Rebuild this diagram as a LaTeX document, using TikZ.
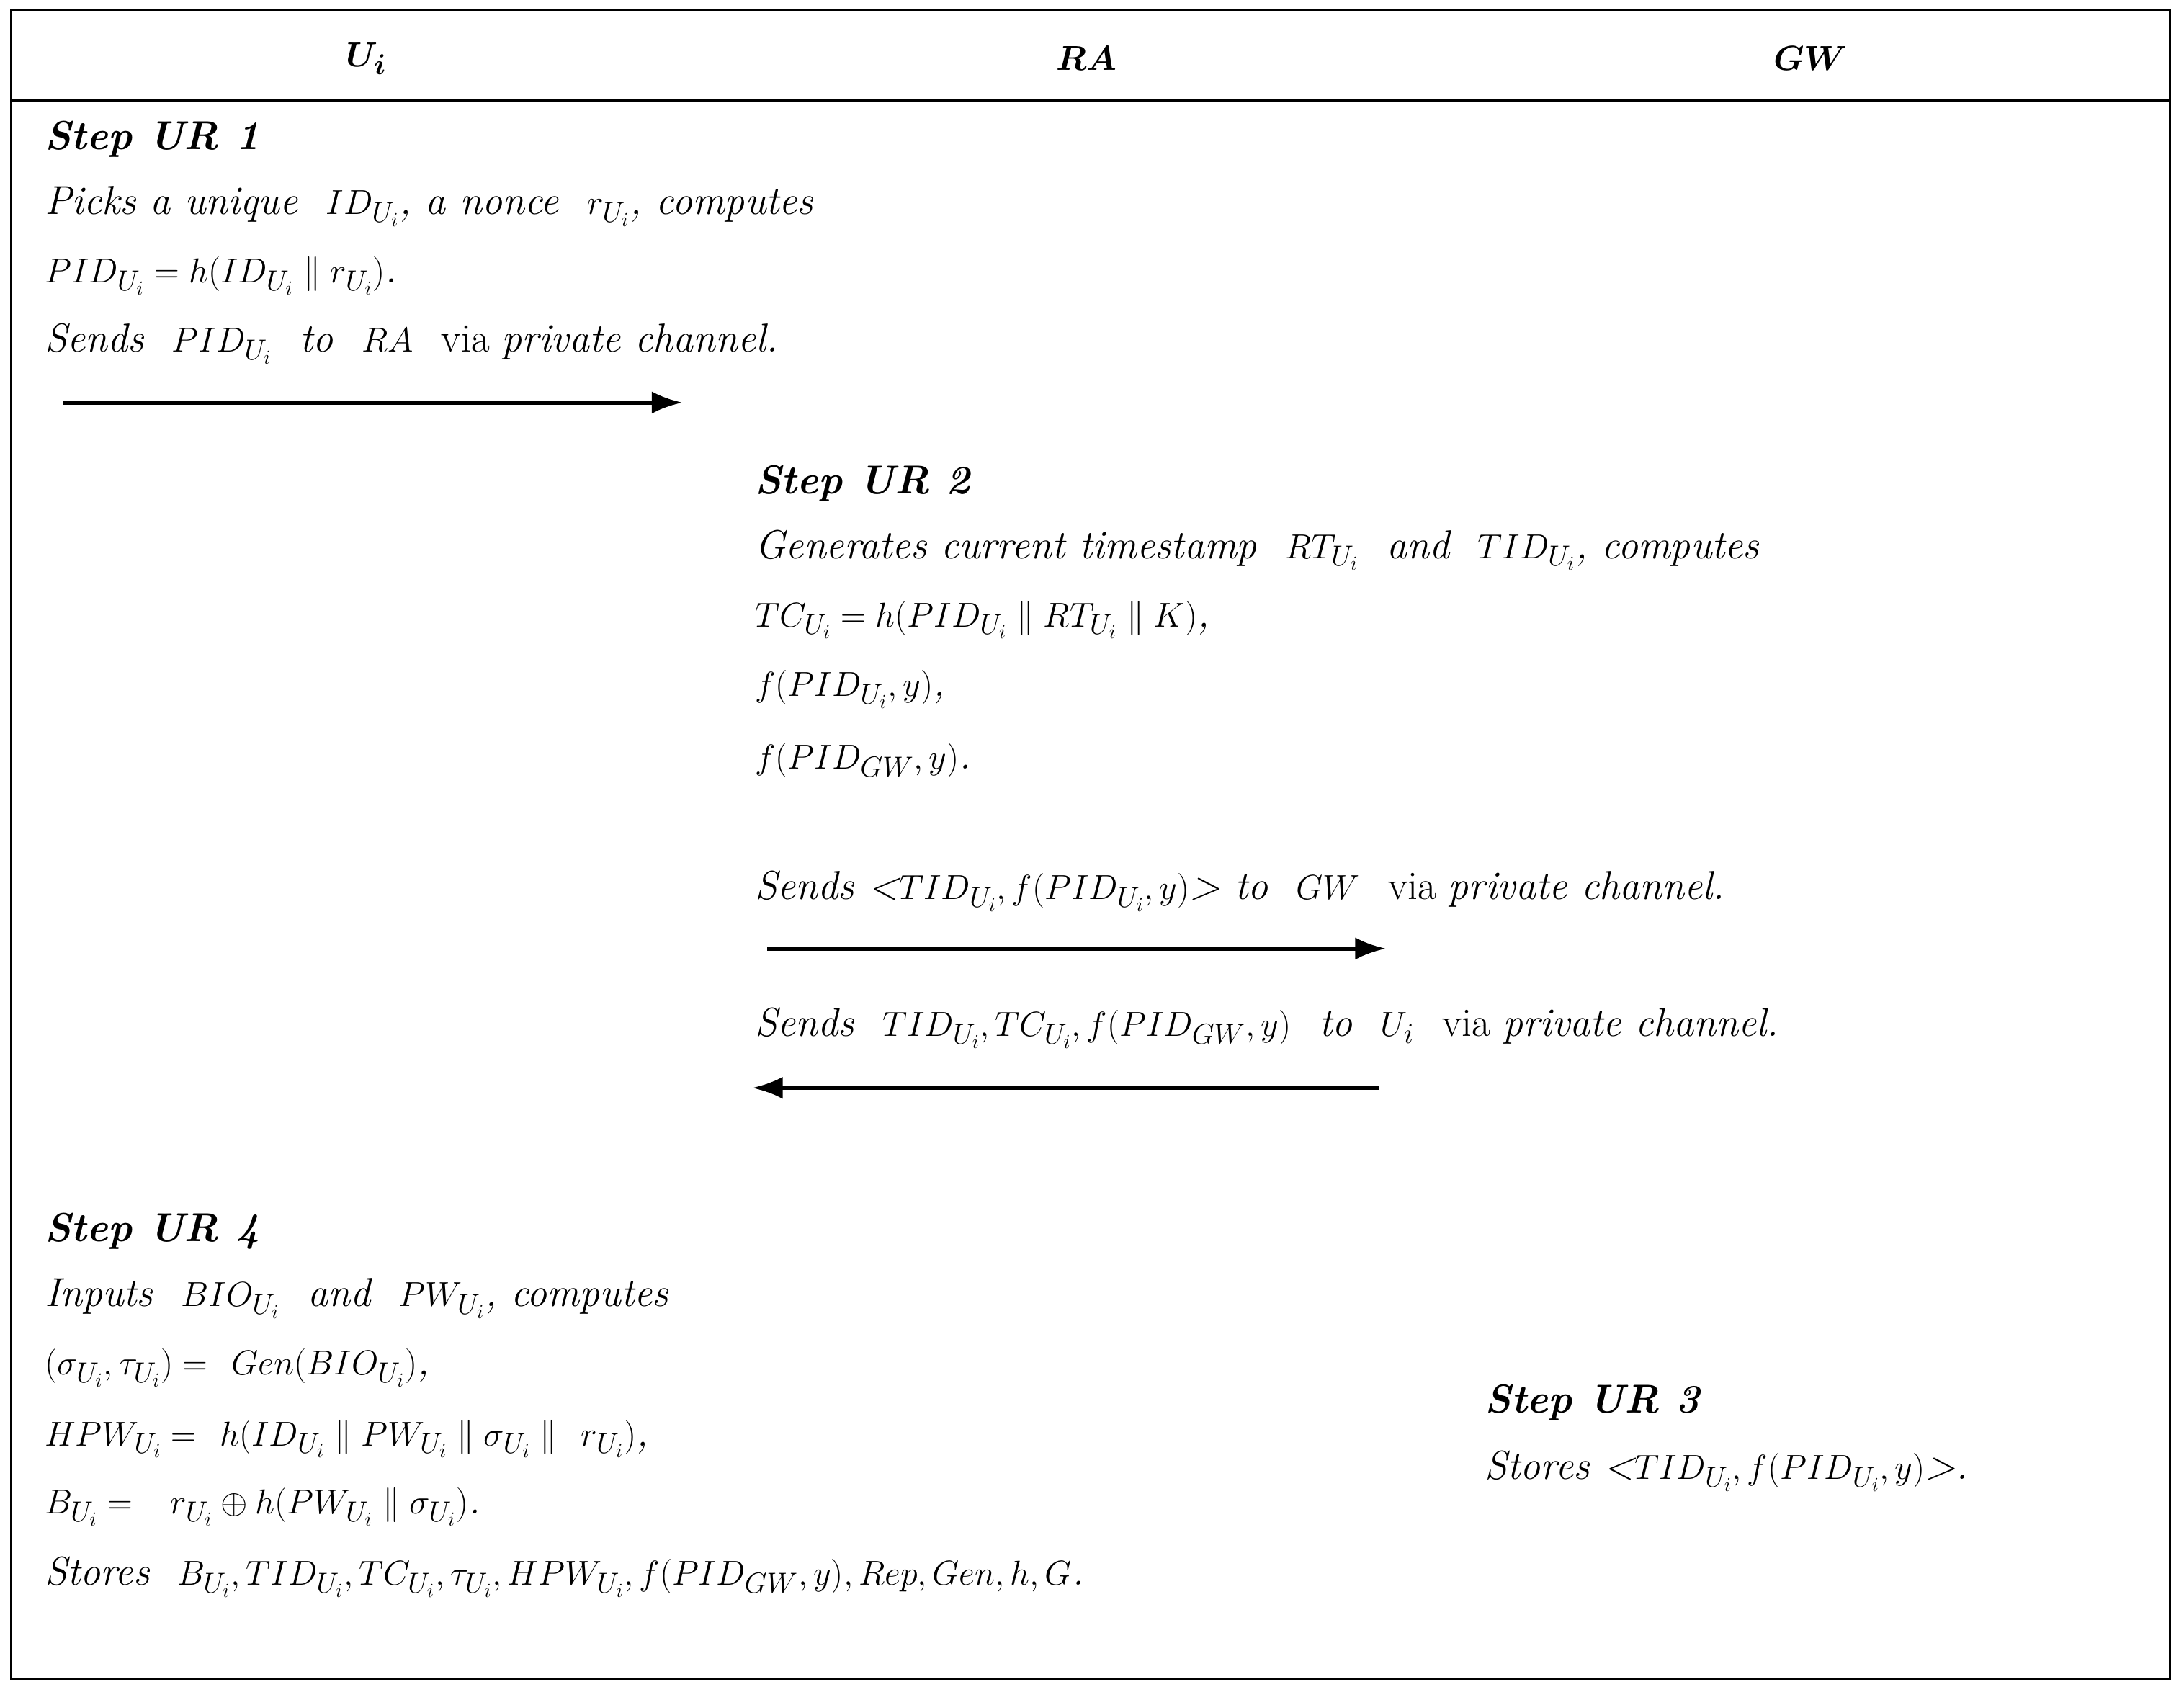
\documentclass[tikz,border=0pt]{standalone}
\usepackage{amsmath,amssymb}
\usetikzlibrary{arrows.meta}
\begin{document}
\begin{tikzpicture}[x=1pt,y=-1pt,
  t/.style={anchor=west,inner sep=0pt,font=\fontsize{29}{34}\selectfont\itshape},
  h/.style={inner sep=0pt,font=\fontsize{30}{34}\selectfont\bfseries\itshape},
  arr/.style={line width=3pt,-{Latex[length=22pt,width=16pt]}}]
\useasboundingbox (0,0) rectangle (1568,1211);
\draw[line width=1.5pt] (8,7) rectangle (1558,1205);
\draw[line width=1.5pt] (8,72) -- (1558,72);
\node[h] (hu) at (263,42) {$\boldsymbol{U_i}$};
\node[h] (hr) at (780,42) {$\boldsymbol{RA}$};
\node[h] (hg) at (1300,42) {$\boldsymbol{GW}$};
% Step UR1
\node[t] (s1) at (32,100) {\bfseries Step UR 1};
\node[t] (s1a) at (32,148) {Picks a unique \ $ID_{U_i}$, a nonce \ $r_{U_i}$, computes};
\node[t] (s1b) at (32,198) {$PID_{U_i}=h(ID_{U_i}\parallel r_{U_i})$.};
\node[t] (s1c) at (32,247) {Sends \ $PID_{U_i}$ \ to \ $RA$ \ \upshape via \itshape private channel.};
\coordinate (a1s) at (45,289); \coordinate (a1e) at (490,289);
\draw[arr] (a1s) -- (a1e);
% Step UR2
\node[t] (s2) at (542,347) {\bfseries Step UR 2};
\node[t] (s2a) at (542,395) {Generates current timestamp \ $RT_{U_i}$ \ and \ $TID_{U_i}$, computes};
\node[t] (s2b) at (542,445) {$TC_{U_i}=h(PID_{U_i}\parallel RT_{U_i}\parallel K)$,};
\node[t] (s2c) at (542,495) {$f(PID_{U_i},y)$,};
\node[t] (s2d) at (542,546) {$f(PID_{GW},y)$.};
\node[t] (s2e) at (542,640) {Sends <$TID_{U_i},f(PID_{U_i},y)$> to \ $GW$ \ \upshape via \itshape private channel.};
\coordinate (a2s) at (551,681); \coordinate (a2e) at (995,681);
\draw[arr] (a2s) -- (a2e);
\node[t] (s2f) at (542,738) {Sends \ $TID_{U_i},TC_{U_i},f(PID_{GW},y)$ \ to \ $U_i$ \ \upshape via \itshape private channel.};
\coordinate (a3s) at (990,781); \coordinate (a3e) at (540,781);
\draw[arr] (a3s) -- (a3e);
% Step UR4
\node[t] (s4) at (32,884) {\bfseries Step UR 4};
\node[t] (s4a) at (32,932) {Inputs \ $BIO_{U_i}$ \ and \ $PW_{U_i}$, computes};
\node[t] (s4b) at (32,982) {$(\sigma_{U_i},\tau_{U_i})=\ Gen(BIO_{U_i})$,};
\node[t] (s4c) at (32,1033) {$HPW_{U_i}=\ h(ID_{U_i}\parallel PW_{U_i}\parallel \sigma_{U_i}\parallel\ r_{U_i})$,};
\node[t] (s4d) at (32,1082) {$B_{U_i}=\ \ r_{U_i}\oplus h(PW_{U_i}\parallel\sigma_{U_i})$.};
\node[t] (s4e) at (32,1132) {Stores \ $B_{U_i},TID_{U_i},TC_{U_i},\tau_{U_i},HPW_{U_i},f(PID_{GW},y),Rep,Gen,h,G$.};
% Step UR3
\node[t] (s3) at (1066,1007) {\bfseries Step UR 3};
\node[t] (s3a) at (1066,1056) {Stores <$TID_{U_i},f(PID_{U_i},y)$>.};
\end{tikzpicture}
\end{document}
